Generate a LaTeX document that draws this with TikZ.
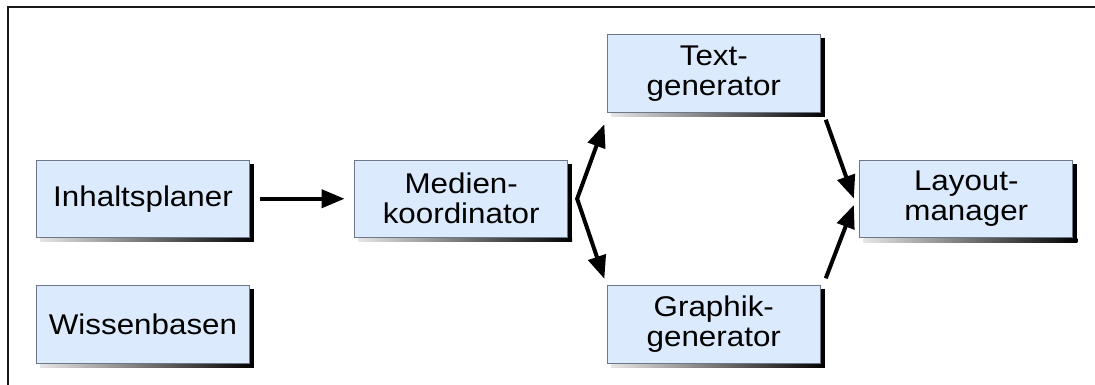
\documentclass[tikz,border=0pt]{standalone}
\usepackage{fontspec}
\setmainfont[FakeStretch=1.1]{Liberation Sans}
\usetikzlibrary{arrows.meta}
\definecolor{boxfill}{RGB}{219,234,253}
\definecolor{boxline}{RGB}{110,118,135}
\definecolor{frameline}{RGB}{25,25,25}
\tikzset{
  module/.style={draw=boxline, line width=0.9pt, fill=boxfill,
    minimum width=213pt, minimum height=77.5pt, inner sep=0pt,
    align=center, font=\fontsize{28.5}{30}\selectfont},
  flow/.style={line width=4pt,
    -{Triangle[length=23pt,width=18pt]}},
  twoway/.style={line width=4pt, miter limit=10,
    {Triangle[length=23pt,width=18pt]}-{Triangle[length=23pt,width=18pt]}}
}
\begin{document}
\begin{tikzpicture}[x=1pt,y=-1pt]
\useasboundingbox (0,0) rectangle (1095,385);
% open frame: top and left edges only
\draw[frameline, line width=1.2pt] (8,385) -- (8,7) -- (1095,7);

\node[module] (inh) at (143,198.75) {Inhaltsplaner};
\node[module] (wis) at (143,324.5) {Wissenbasen};
\node[module] (med) at (461.2,198.75) {Medien-\\koordinator};
\node[module] (txt) at (713.8,73.5) {Text-\\generator};
\node[module] (gra) at (713.8,324.5) {Graphik-\\generator};
\node[module] (lay) at (966.3,199) {Layout-\\manager};

% drop shadows: solid on the right, fading along the bottom
\foreach \n in {inh,wis,med,txt,gra,lay}{
  \fill[black] ([yshift=-4pt]\n.north east) rectangle ([xshift=4pt,yshift=-4pt]\n.south east);
  \shade[left color=white!90!black, right color=black]
    ([xshift=4pt,yshift=-0.5pt]\n.south west) rectangle ([xshift=4pt,yshift=-4pt]\n.south east);
}

\coordinate (fork) at ([xshift=9pt]med.east);
\draw[flow] ([xshift=10.5pt]inh.east) -- ([xshift=-9.7pt]med.west);
\draw[twoway] ([xshift=-2.5pt,yshift=-11.5pt]txt.south west) -- (fork)
  -- ([xshift=-2.5pt,yshift=6.5pt]gra.north west);
\draw[flow] ([xshift=5pt,yshift=-7pt]txt.south east) -- ([xshift=-5.5pt,yshift=0.5pt]lay.west);
\draw[flow] ([xshift=5pt,yshift=7pt]gra.north east) -- ([xshift=-5.5pt,yshift=-6pt]lay.west);
\end{tikzpicture}
\end{document}
